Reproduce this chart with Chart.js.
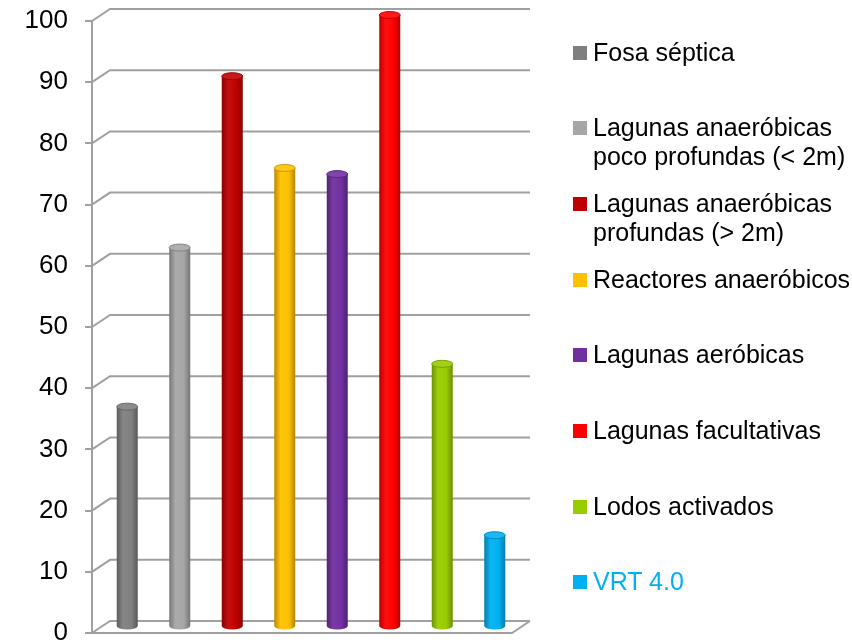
<!DOCTYPE html>
<html>
<head>
<meta charset="utf-8">
<script src="https://cdn.jsdelivr.net/npm/chart.js@4.4.1/dist/chart.umd.min.js"></script>
<style>
  body { margin: 0; background: #fff; }
  #wrap { position: relative; width: 852px; height: 643px; overflow: hidden; }
  #legend { position: absolute; left: 0; top: 0; font-family: 'Liberation Sans', Arial, sans-serif; font-size: 25px; line-height: 29px; color: #000; }
  .item { position: absolute; left: 573px; white-space: nowrap; }
  .item .box { position: absolute; left: 0; top: 8px; width: 14px; height: 14px; }
  .item .txt { position: absolute; left: 20px; top: 0; }
</style>
</head>
<body>
<div id="wrap">
  <canvas id="chart" width="852" height="643"></canvas>
  <div id="legend"></div>
</div>
<script>
// categories (legend lines) and values
const categories = [
    ['Fosa séptica'],
    ['Lagunas anaeróbicas', 'poco profundas (< 2m)'],
    ['Lagunas anaeróbicas', 'profundas (> 2m)'],
    ['Reactores anaeróbicos'],
    ['Lagunas aeróbicas'],
    ['Lagunas facultativas'],
    ['Lodos activados'],
    ['VRT 4.0']
];
const values = [36, 62, 90, 75, 74, 100, 43, 15];
const colors = ['#7F7F7F', '#A6A6A6', '#C00000', '#FFC000', '#7030A0', '#FF0000', '#99CC00', '#00B0F0'];
const labelColors = ['#000', '#000', '#000', '#000', '#000', '#000', '#000', '#00B0F0'];

// depth offset of the 3D walls
const DX = 18, DY = 12;
const gridColor = '#A0A0A0';

function shade(hex, f) {
    const n = parseInt(hex.slice(1), 16);
    let r = (n >> 16) & 255, g = (n >> 8) & 255, b = n & 255;
    if (f < 0) {
        r = r * (1 + f); g = g * (1 + f); b = b * (1 + f);
    } else {
        r = r + (255 - r) * f; g = g + (255 - g) * f; b = b + (255 - b) * f;
    }
    return `rgb(${Math.round(r)},${Math.round(g)},${Math.round(b)})`;
}

const wallsPlugin = {
    id: 'walls',
    beforeDatasetsDraw(chart) {
        const ctx = chart.ctx;
        const y = chart.scales.y;
        const area = chart.chartArea;
        ctx.save();
        ctx.strokeStyle = gridColor;
        ctx.lineWidth = 2;
        y.ticks.forEach(t => {
            const py = y.getPixelForValue(t.value);
            ctx.beginPath();
            ctx.moveTo(area.left, py);
            ctx.lineTo(area.left + DX, py - DY);
            ctx.lineTo(area.right + DX, py - DY);
            ctx.stroke();
        });
        // floor front edge
        const p0 = y.getPixelForValue(0);
        ctx.beginPath();
        ctx.moveTo(area.left, p0);
        ctx.lineTo(area.right, p0);
        ctx.lineTo(area.right + DX, p0 - DY);
        ctx.stroke();
        ctx.restore();
    },
    beforeDatasetDraw() {
        return false;
    },
    afterDatasetsDraw(chart) {
        const ctx = chart.ctx;
        const meta = chart.getDatasetMeta(0);
        ctx.save();
        ctx.translate(DX / 2, -DY / 2);
        meta.data.forEach((bar, i) => {
            const c = colors[i];
            const w = bar.width;
            const x0 = bar.x - w / 2;
            const top = bar.y, base = bar.base;
            const ry = 3.5;
            const g = ctx.createLinearGradient(x0, 0, x0 + w, 0);
            g.addColorStop(0, shade(c, -0.28));
            g.addColorStop(0.3, shade(c, 0.06));
            g.addColorStop(0.7, c);
            g.addColorStop(1, shade(c, -0.3));
            ctx.fillStyle = g;
            ctx.beginPath();
            ctx.moveTo(x0, top);
            ctx.lineTo(x0, base);
            ctx.ellipse(bar.x, base, w / 2, ry, 0, Math.PI, 0, true);
            ctx.lineTo(x0 + w, top);
            ctx.closePath();
            ctx.fill();
            // top cap
            ctx.fillStyle = shade(c, 0.1);
            ctx.strokeStyle = shade(c, -0.2);
            ctx.lineWidth = 1;
            ctx.beginPath();
            ctx.ellipse(bar.x, top, w / 2, ry, 0, 0, Math.PI * 2);
            ctx.fill();
            ctx.stroke();
        });
        ctx.restore();
    }
};

new Chart(document.getElementById('chart'), {
    type: 'bar',
    data: {
        labels: categories.map(c => c.join(' ')),
        datasets: [{
            data: values,
            backgroundColor: colors,
            barPercentage: 0.4,
            categoryPercentage: 1
        }]
    },
    options: {
        responsive: false,
        animation: false,
        devicePixelRatio: 1,
        layout: { padding: { top: 21, right: 340, bottom: 10, left: 0 } },
        plugins: { legend: { display: false }, tooltip: { enabled: false } },
        scales: {
            x: { display: false },
            y: {
                min: 0,
                max: 100,
                ticks: {
                    stepSize: 10,
                    padding: 17,
                    color: '#000',
                    font: { family: 'Liberation Sans', size: 26 }
                },
                grid: { drawOnChartArea: false, tickLength: 7, color: gridColor, lineWidth: 2 },
                border: { color: gridColor, width: 2 },
                afterFit(scale) {
                    scale.width = 92;
                    scale.paddingTop = 0;
                    scale.paddingBottom = 0;
                }
            }
        }
    },
    plugins: [wallsPlugin]
});

// legend
const legend = document.getElementById('legend');
categories.forEach((lines, i) => {
    const item = document.createElement('div');
    item.className = 'item';
    item.style.top = (52 + 75.7 * i - 14.5) + 'px';
    const box = document.createElement('div');
    box.className = 'box';
    box.style.background = colors[i];
    const txt = document.createElement('div');
    txt.className = 'txt';
    txt.style.color = labelColors[i];
    txt.innerHTML = lines.join('<br>');
    item.appendChild(box);
    item.appendChild(txt);
    legend.appendChild(item);
});
</script>
</body>
</html>
